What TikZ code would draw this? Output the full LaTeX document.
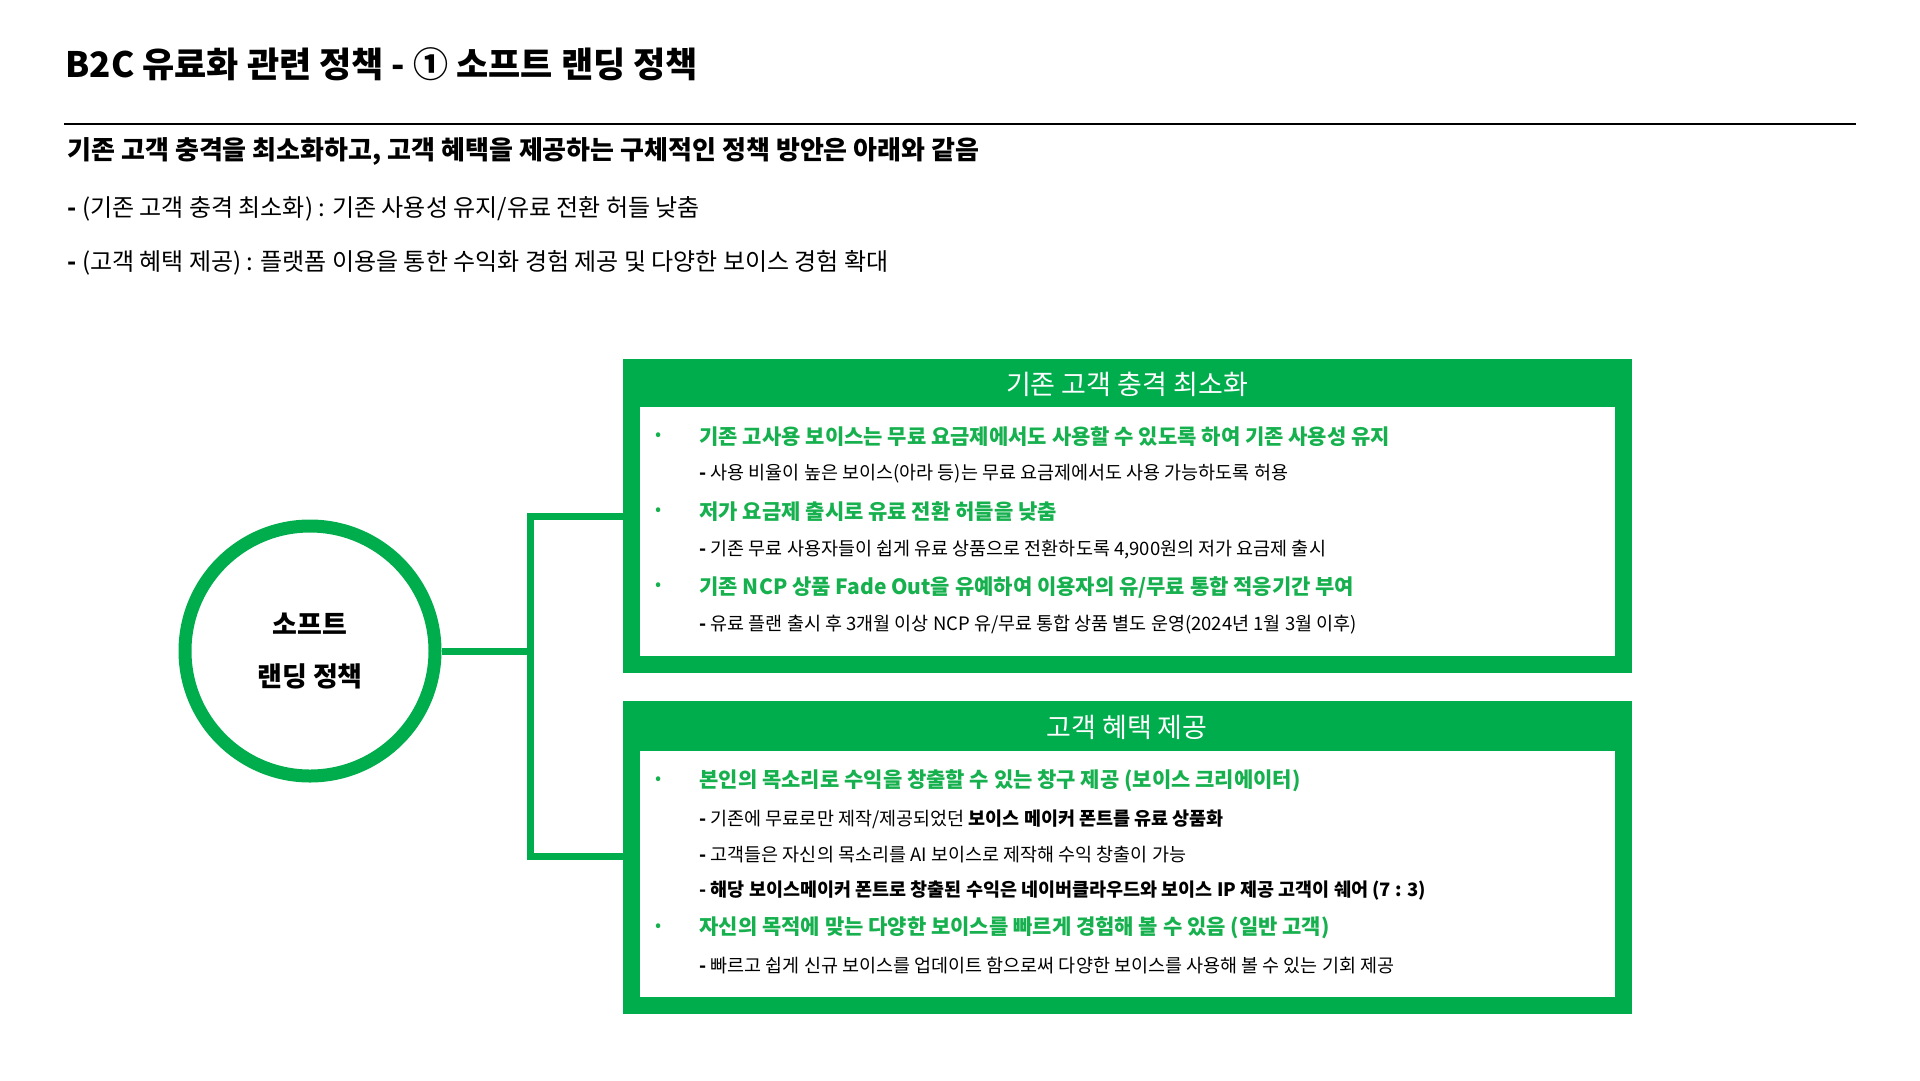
\documentclass[tikz,border=0pt]{standalone}
\usepackage{fontspec}
\setmainfont{Noto Sans CJK KR}
\newfontfamily\kr{Noto Sans CJK KR}
\definecolor{grn}{HTML}{00AD4D}
\definecolor{grt}{HTML}{16B14E}
\begin{document}
\begin{tikzpicture}[x=1pt,y=-1pt,
  fs/.style={font=\fontsize{#1}{#1}\selectfont},
  head/.style={anchor=center,text=white,fs=27},
  gitem/.style={anchor=west,text=grt,fs=21,font=\bfseries\fontsize{21}{21}\selectfont},
  sitem/.style={anchor=west,fs=18.5},
  dot/.style={anchor=center,text=grt,fs=18},
  conn/.style={draw=grn,line width=7pt}]
\useasboundingbox (0,0) rectangle (1920,1080);
\node[anchor=west,font=\bfseries\fontsize{35}{35}\selectfont] (title) at (62,64) {B2C 유료화 관련 정책 - ① 소프트 랜딩 정책};
\draw[line width=1.2pt] (64,124) -- (1856,124);
\node[anchor=west,font=\bfseries\fontsize{26}{26}\selectfont] (sub) at (64,151) {기존 고객 충격을 최소화하고, 고객 혜택을 제공하는 구체적인 정책 방안은 아래와 같음};
\node[anchor=west,fs=24] (l1) at (64,209) {\textbf{-} (기존 고객 충격 최소화) : 기존 사용성 유지/유료 전환 허들 낮춤};
\node[anchor=west,fs=24] (l2) at (64,263) {\textbf{-} (고객 혜택 제공) : 플랫폼 이용을 통한 수익화 경험 제공 및 다양한 보이스 경험 확대};
% boxes
\fill[grn] (623,359) rectangle (1632,673);
\fill[white] (640,407) rectangle (1615,656);
\node[head] (h1) at (1127,384) {기존 고객 충격 최소화};
\fill[grn] (623,701) rectangle (1632,1014);
\fill[white] (640,751) rectangle (1615,997);
\node[head] (h2) at (1127,727) {고객 혜택 제공};
\coordinate (b1) at (623,516);
\coordinate (b2) at (623,856);
% circle
\node[circle,draw=grn,line width=13pt,minimum size=250pt,align=center,font=\bfseries\fontsize{27}{52}\selectfont] (c) at (310,651) {소프트\\랜딩 정책};
\coordinate (j) at (530,651);
\draw[conn] (c.east) -- (j);
\draw[conn] (b1) -| (j) |- (b2);
% box1 items
\node[dot] at (659,437) {•}; \node[gitem] at (696,437) {기존 고사용 보이스는 무료 요금제에서도 사용할 수 있도록 하여 기존 사용성 유지};
\node[sitem] at (696,474) {\textbf{-} 사용 비율이 높은 보이스(아라 등)는 무료 요금제에서도 사용 가능하도록 허용};
\node[dot] at (659,512) {•}; \node[gitem] at (696,512) {저가 요금제 출시로 유료 전환 허들을 낮춤};
\node[sitem] at (696,550) {\textbf{-} 기존 무료 사용자들이 쉽게 유료 상품으로 전환하도록 4,900원의 저가 요금제 출시};
\node[dot] at (659,587) {•}; \node[gitem] at (696,587) {기존 NCP 상품 Fade Out을 유예하여 이용자의 유/무료 통합 적응기간 부여};
\node[sitem] at (696,625) {\textbf{-} 유료 플랜 출시 후 3개월 이상 NCP 유/무료 통합 상품 별도 운영(2024년 1월~3월 이후)};
% box2 items
\node[dot] at (659,781) {•}; \node[gitem] at (696,781) {본인의 목소리로 수익을 창출할 수 있는 창구 제공 (보이스 크리에이터)};
\node[sitem] at (696,819) {\textbf{-} 기존에 무료로만 제작/제공되었던 \textbf{보이스 메이커 폰트를 유료 상품화}};
\node[sitem] at (696,855) {\textbf{-} 고객들은 자신의 목소리를 AI 보이스로 제작해 수익 창출이 가능};
\node[sitem,font=\bfseries\fontsize{18.5}{18.5}\selectfont] at (696,891) {- 해당 보이스메이커 폰트로 창출된 수익은 네이버클라우드와 보이스 IP 제공 고객이 쉐어 (7 : 3)};
\node[dot] at (659,928) {•}; \node[gitem] at (696,928) {자신의 목적에 맞는 다양한 보이스를 빠르게 경험해 볼 수 있음 (일반 고객)};
\node[sitem] at (696,966) {\textbf{-} 빠르고 쉽게 신규 보이스를 업데이트 함으로써 다양한 보이스를 사용해 볼 수 있는 기회 제공};
\end{tikzpicture}
\end{document}
